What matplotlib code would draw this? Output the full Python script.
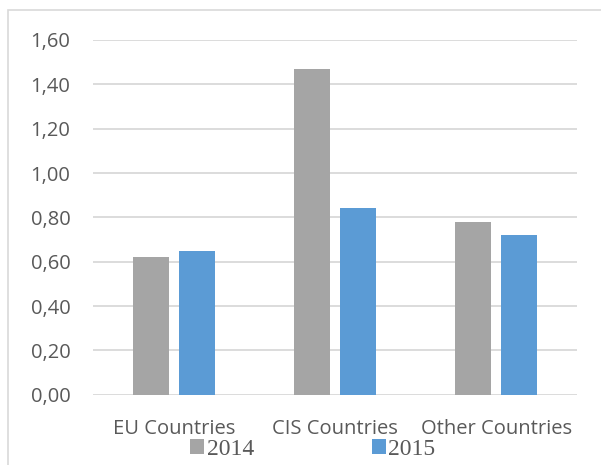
import matplotlib.pyplot as plt
import numpy as np
from matplotlib.patches import Rectangle

# country groups and the two yearly series
categories = ["EU Countries", "CIS Countries", "Other Countries"]
years = ["2014", "2015"]
values_2014 = [0.62, 1.47, 0.78]
values_2015 = [0.65, 0.84, 0.72]
yticks = [0.0, 0.2, 0.4, 0.6, 0.8, 1.0, 1.2, 1.4, 1.6]

gray = "#A5A5A5"
blue = "#5B9BD5"
text_col = "#595959"
grid_col = "#D9D9D9"

fig = plt.figure(figsize=(6.01, 4.65), dpi=100)
ax = fig.add_axes([0.1553, 0.1512, 0.8043, 0.7628])

# light frame round the chart area
fig.patches.append(Rectangle((8 / 601, -0.1), 1.2, 1 - 10 / 465 + 0.1,
                             transform=fig.transFigure, fill=False,
                             edgecolor="#D9D9D9", linewidth=1.2))

x = np.arange(len(categories))
w = 0.2235
off = 0.141
b1 = ax.bar(x - off, values_2014, w, color=gray, label=years[0], zorder=3)
b2 = ax.bar(x + off, values_2015, w, color=blue, label=years[1], zorder=3)

ax.set_xlim(-0.5, 2.5)
ax.set_ylim(0, 1.6)
ax.set_yticks(yticks)
ax.set_yticklabels([f"{v:.2f}".replace(".", ",") for v in yticks])
ax.set_xticks(x)
ax.set_xticklabels(categories)
ax.yaxis.grid(True, color=grid_col, linewidth=1.3, zorder=0)
ax.set_axisbelow(True)
for s in ax.spines.values():
    s.set_visible(False)
ax.tick_params(axis="y", length=0, pad=16.5, labelsize=14.5, labelcolor=text_col)
ax.tick_params(axis="x", length=0, pad=17.5, labelsize=14.5, labelcolor=text_col)
for lbl in ax.get_xticklabels() + ax.get_yticklabels():
    lbl.set_family("Open Sans")

fig.legend(handles=[b1, b2], labels=years, loc="center left",
           bbox_to_anchor=(190 / 601, 1 - 449 / 465), ncol=2, frameon=False,
           borderpad=0, borderaxespad=0, handlelength=0.6, handleheight=0.6,
           handletextpad=0.1, columnspacing=5.0,
           prop={"family": "Liberation Serif", "size": 17},
           labelcolor=text_col)

fig.savefig("out.png", dpi=100)
